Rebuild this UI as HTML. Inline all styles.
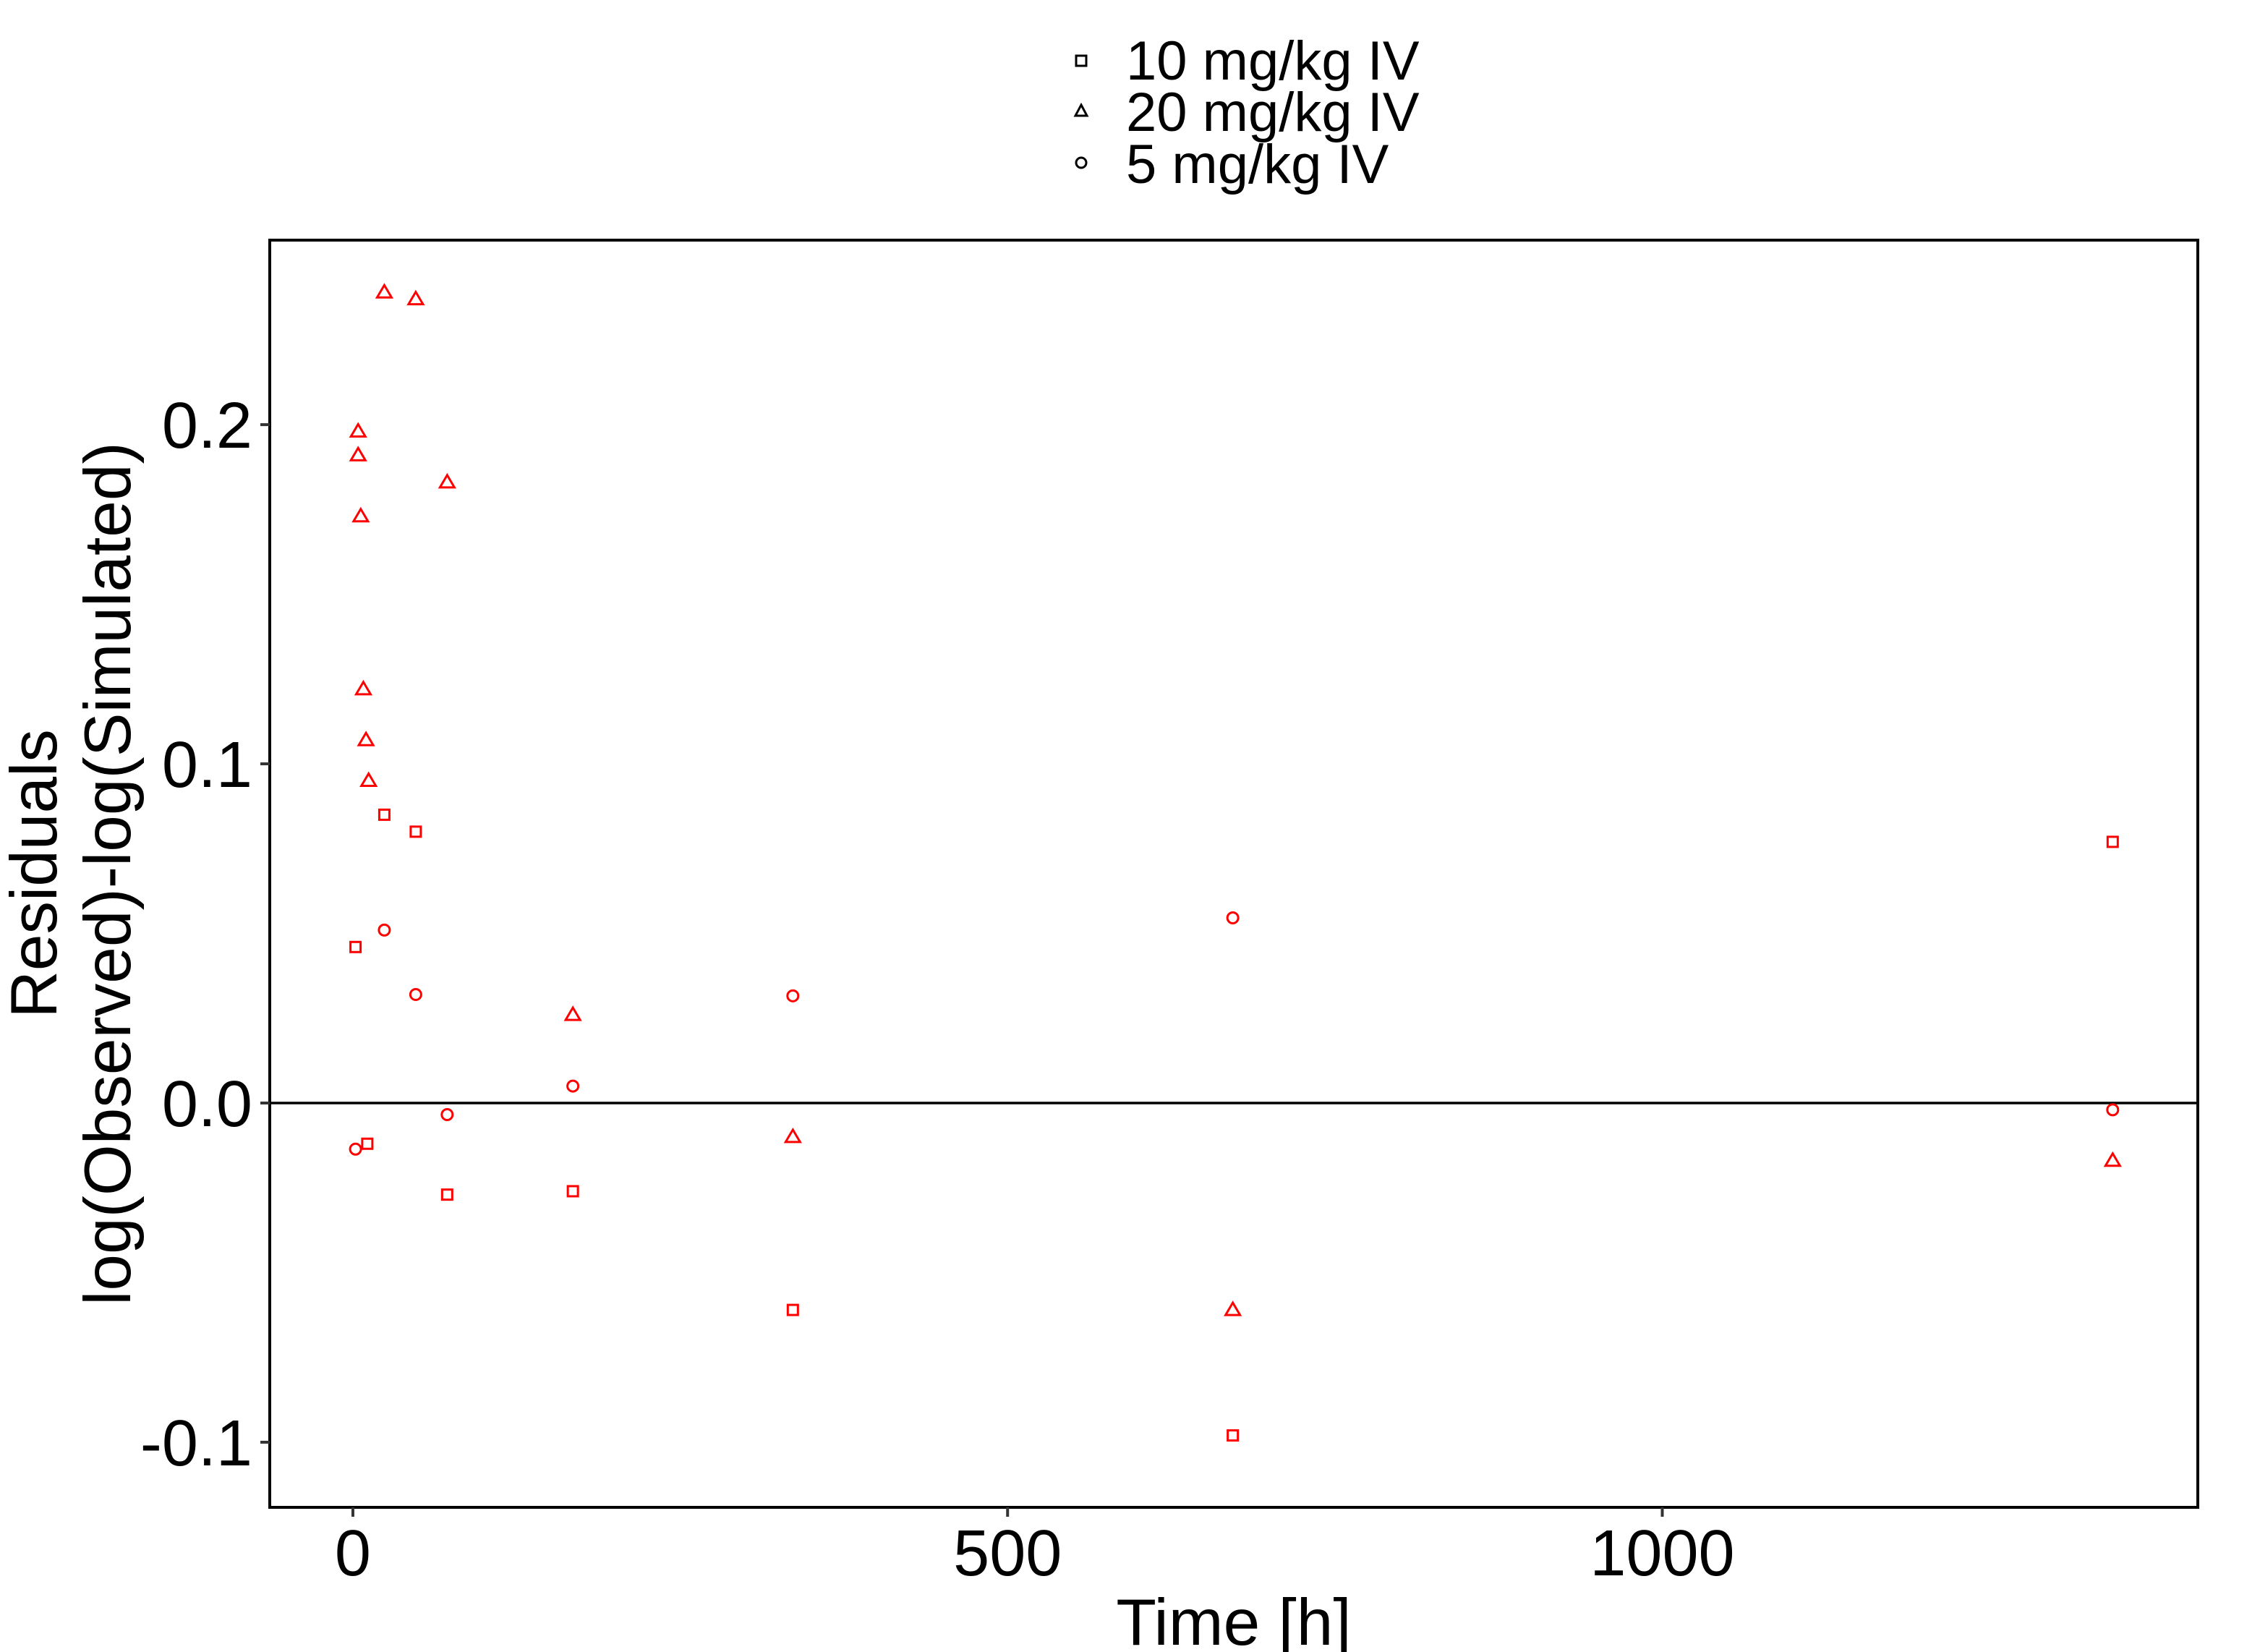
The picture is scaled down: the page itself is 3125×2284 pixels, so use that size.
<!DOCTYPE html>
<html><head><meta charset="utf-8"><style>
html,body{margin:0;padding:0;background:#fff;}
svg{display:block;font-family:"Liberation Sans",Arial,sans-serif;}
</style></head><body>
<svg id="chart" width="3125" height="2284" viewBox="0 0 3125 2284" xmlns="http://www.w3.org/2000/svg">
<rect width="3125" height="2284" fill="#fff"/>
<g id="legend">
  <g>
    <rect x="1488" y="77" width="14" height="14" fill="none" stroke="#000" stroke-width="3"/>
    <text x="1557" y="110" font-size="76">10 mg/kg IV</text>
  </g>
  <g>
    <polygon points="1495,145 1503,160 1487,160" fill="none" stroke="#000" stroke-width="3"/>
    <text x="1557" y="181" font-size="76">20 mg/kg IV</text>
  </g>
  <g>
    <circle cx="1495" cy="225" r="7" fill="none" stroke="#000" stroke-width="3"/>
    <text x="1557" y="253" font-size="76">5 mg/kg IV</text>
  </g>
</g>
<g id="axes"></g>
<g id="points"></g>
<text transform="translate(78,1208) rotate(-90)" text-anchor="middle" font-size="91">Residuals</text>
<text transform="translate(180,1208) rotate(-90)" text-anchor="middle" font-size="91">log(Observed)-log(Simulated)</text>
<text x="1706" y="2274" text-anchor="middle" font-size="91">Time [h]</text>
</svg>
<script>
const xTicks = [0, 500, 1000];
const yTicks = [-0.1, 0.0, 0.1, 0.2];
const yTickLabels = ["-0.1", "0.0", "0.1", "0.2"];
const tri20Time = [4, 4, 6, 8, 10, 12, 24, 48, 72, 168, 336, 672, 1344];
const tri20Res = [0.198, 0.191, 0.173, 0.122, 0.107, 0.095, 0.239, 0.237, 0.183, 0.026, -0.010, -0.061, -0.017];
const sq10Time = [2, 11, 24, 48, 72, 168, 336, 672, 1344];
const sq10Res = [0.046, -0.012, 0.085, 0.080, -0.027, -0.026, -0.061, -0.098, 0.077];
const ci5Time = [2, 24, 48, 72, 168, 336, 672, 1344];
const ci5Res = [-0.0136, 0.051, 0.032, -0.0034, 0.005, 0.0316, 0.0546, -0.002];

const NS = "http://www.w3.org/2000/svg";
const L = 373, R = 3039, T = 332, B = 2084;
const xMin = -63.5, xMax = 1409, yMin = -0.1192, yMax = 0.2544;
function sx(v){ return L + (v - xMin) / (xMax - xMin) * (R - L); }
function sy(v){ return B - (v - yMin) / (yMax - yMin) * (B - T); }
function mk(tag, attrs, parent){ const e = document.createElementNS(NS, tag); for (const k in attrs) e.setAttribute(k, attrs[k]); parent.appendChild(e); return e; }

const axes = document.getElementById('axes');
const pts = document.getElementById('points');
const panel = mk('rect', {x:L, y:T, width:R-L, height:B-T, fill:'none', stroke:'#000', 'stroke-width':4}, axes);


const zl = mk('line', {x1:L, x2:R, y1:sy(0), y2:sy(0), stroke:'#000', 'stroke-width':3.5}, axes);



xTicks.forEach((t) => {
  const tk = mk('line', {x1:sx(t), x2:sx(t), y1:B, y2:B+13, stroke:'#333', 'stroke-width':4}, axes);
  
  
  const tx = mk('text', {x:sx(t), y:2178, 'text-anchor':'middle', 'font-size':90}, axes);
  tx.textContent = String(t);
  
  
});
yTicks.forEach((t, i) => {
  const tk = mk('line', {x1:L-13, x2:L, y1:sy(t), y2:sy(t), stroke:'#333', 'stroke-width':4}, axes);
  
  
  const tx = mk('text', {x:349, y:sy(t)+32, 'text-anchor':'end', 'font-size':90}, axes);
  tx.textContent = yTickLabels[i];
  
  
});

tri20Time.forEach((t, i) => {
  const x = sx(t), y = sy(tri20Res[i]);
  const p = mk('polygon', {points:`${x},${y-10} ${x+10},${y+7} ${x-10},${y+7}`, fill:'none', stroke:'#f00', 'stroke-width':3}, pts);
  
  
});
sq10Time.forEach((t, i) => {
  const x = sx(t), y = sy(sq10Res[i]);
  const p = mk('rect', {x:x-7, y:y-7, width:14, height:14, fill:'none', stroke:'#f00', 'stroke-width':3}, pts);
  
  
});
ci5Time.forEach((t, i) => {
  const p = mk('circle', {cx:sx(t), cy:sy(ci5Res[i]), r:7.5, fill:'none', stroke:'#f00', 'stroke-width':3}, pts);
  
  
});
</script>
</body></html>
